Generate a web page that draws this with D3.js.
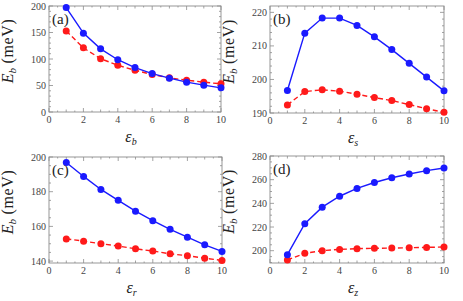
<!DOCTYPE html>
<html lang="en">
<head>
<meta charset="UTF-8">
<title>Eb panels</title>
<style>
  body { margin: 0; background: #fff; }
  text { font-family: 'Liberation Serif', 'DejaVu Serif', serif; }
  .frame { fill: none; stroke: #8c8c8c; stroke-width: 0.9px; }
  .tick line { stroke: #8c8c8c; stroke-width: 0.8px; }
  .ticklabel { fill: #444; font-size: 10px; }
</style>
</head>
<body>
<script src="https://d3js.org/d3.v7.min.js"></script>
<script>
// x values shared by all panels
const xs = [1, 2, 3, 4, 5, 6, 7, 8, 9, 10];

// (a) eps_b
const blueA = [197, 148.8, 119.2, 98.6, 83.8, 72.5, 63.8, 56.3, 50.6, 45.6];
const redA  = [152.8, 121, 100.6, 88.1, 78.8, 70.6, 64.4, 60, 56.3, 53.1];
// (b) eps_s
const blueB = [196.7, 213.8, 218.3, 218.3, 216.1, 212.7, 208.9, 204.8, 200.7, 196.6];
const redB  = [192.4, 196.4, 196.9, 196.5, 195.6, 194.6, 193.7, 192.5, 191.3, 190.2];
// (c) eps_r
const blueC = [196.8, 188.8, 181.3, 175, 168.8, 163.3, 158.3, 153.8, 149.4, 145.6];
const redC  = [152.8, 151.5, 150, 148.7, 147.1, 145.8, 144.2, 143.1, 141.7, 140.4];
// (d) eps_z
const blueD = [196.6, 222.8, 236.8, 246, 252.6, 257.6, 261.6, 264.8, 267.6, 269.9];
const redD  = [192.2, 197.8, 200, 201.1, 201.7, 202, 202.2, 202.5, 202.8, 203.1];

const xTicks = [0, 2, 4, 6, 8, 10];
const panelLabels = ["(a)", "(b)", "(c)", "(d)"];
const xSubs = ["b", "s", "r", "z"];

const W = 463, H = 301;
const svg = d3.select("body").append("svg").attr("width", W).attr("height", H);

const panels = [
  { box: [49, 6, 221, 112], yDom: [0, 200], yTicks: [0, 50, 100, 150, 200], yMinor: 10, blue: blueA, red: redA },
  { box: [270, 6, 444, 113], yDom: [190, 221.9], yTicks: [190, 200, 210, 220], yMinor: 2, blue: blueB, red: redB },
  { box: [49, 157, 222, 263], yDom: [138.9, 200], yTicks: [140, 160, 180, 200], yMinor: 5, blue: blueC, red: redC },
  { box: [270, 156, 444, 263], yDom: [189.6, 280], yTicks: [200, 220, 240, 260, 280], yMinor: 5, blue: blueD, red: redD }
];

panels.forEach((p, i) => {
  const [x0, y0, x1, y1] = p.box;
  const x = d3.scaleLinear().domain([0, 10]).range([x0, x1]);
  const y = d3.scaleLinear().domain(p.yDom).range([y1, y0]);
  const g = svg.append("g");

  // frame ticks (inward, all four sides)
  const tk = g.append("g").attr("class", "tick");
  const xMinor = d3.range(0, 10.01, 0.5);
  xMinor.forEach(v => {
    const major = xTicks.includes(v);
    const len = major ? 4 : (Number.isInteger(v) ? 2.5 : 1.5);
    tk.append("line").attr("x1", x(v)).attr("x2", x(v)).attr("y1", y1).attr("y2", y1 - len);
    tk.append("line").attr("x1", x(v)).attr("x2", x(v)).attr("y1", y0).attr("y2", y0 + len);
  });
  const yMin = Math.ceil(p.yDom[0] / p.yMinor) * p.yMinor;
  d3.range(yMin, p.yDom[1] + 0.001, p.yMinor).forEach(v => {
    const major = p.yTicks.includes(Math.round(v * 100) / 100);
    const len = major ? 4 : 2;
    tk.append("line").attr("x1", x0).attr("x2", x0 + len).attr("y1", y(v)).attr("y2", y(v));
    tk.append("line").attr("x1", x1).attr("x2", x1 - len).attr("y1", y(v)).attr("y2", y(v));
  });

  g.append("rect").attr("class", "frame")
    .attr("x", x0).attr("y", y0).attr("width", x1 - x0).attr("height", y1 - y0);

  // tick labels
  g.selectAll(".xl").data(xTicks).enter().append("text")
    .attr("class", "ticklabel")
    .attr("x", d => x(d)).attr("y", y1 + 11)
    .attr("text-anchor", "middle")
    .text(d => d);
  g.selectAll(".yl").data(p.yTicks).enter().append("text")
    .attr("class", "ticklabel")
    .attr("x", x0 - 3).attr("y", d => y(d) + 3.5)
    .attr("text-anchor", "end")
    .text(d => d);

  // lines and markers
  const line = d3.line().x((d, j) => x(xs[j])).y(d => y(d));
  g.append("path").datum(p.red).attr("d", line)
    .attr("fill", "none").attr("stroke", "#ff1a1a").attr("stroke-width", 1.4)
    .attr("stroke-dasharray", "5,3");
  g.append("path").datum(p.blue).attr("d", line)
    .attr("fill", "none").attr("stroke", "#1a1aff").attr("stroke-width", 1.4);
  g.selectAll(".rp").data(p.red).enter().append("circle")
    .attr("cx", (d, j) => x(xs[j])).attr("cy", d => y(d)).attr("r", 3.5)
    .attr("fill", "#ff1a1a");
  g.selectAll(".bp").data(p.blue).enter().append("circle")
    .attr("cx", (d, j) => x(xs[j])).attr("cy", d => y(d)).attr("r", 3.5)
    .attr("fill", "#1a1aff");

  // panel label
  g.append("text").attr("x", x0 + 3).attr("y", y0 + 18)
    .attr("font-size", 15).attr("fill", "#222").text(panelLabels[i]);

  // y title
  const yt = g.append("text")
    .attr("transform", `translate(${x0 - 36},${(y0 + y1) / 2 - 8}) rotate(-90)`)
    .attr("text-anchor", "middle").attr("font-size", 16).attr("fill", "#222");
  yt.append("tspan").attr("font-style", "italic").text("E");
  yt.append("tspan").attr("font-style", "italic").attr("font-size", 11).attr("dy", 3).text("b");
  yt.append("tspan").attr("dy", -3).attr("letter-spacing", 0.6).text(" (meV)");

  // x title
  const xt = g.append("text")
    .attr("x", (x0 + x1) / 2 - 4).attr("y", y1 + 30)
    .attr("text-anchor", "middle").attr("font-size", 16).attr("fill", "#222");
  xt.append("tspan").attr("font-style", "italic").text("ε");
  xt.append("tspan").attr("font-style", "italic").attr("font-size", 10).attr("dy", 3).text(xSubs[i]);
});
</script>
</body>
</html>
